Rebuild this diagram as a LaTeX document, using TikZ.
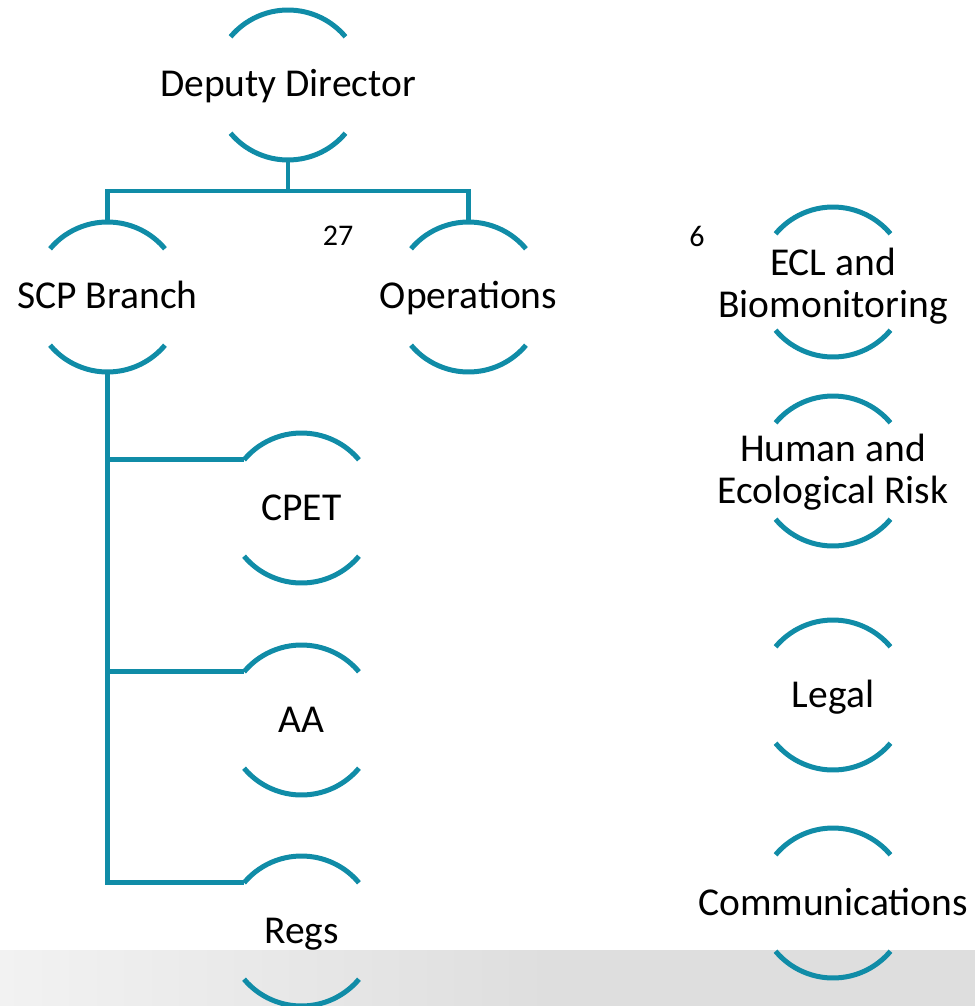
\documentclass[tikz,border=0pt]{standalone}
\usepackage{fontspec}
\setmainfont{Carlito}
\usetikzlibrary{calc}
\definecolor{teal1}{RGB}{16,140,167}
\definecolor{bandL}{RGB}{242,242,242}
\definecolor{bandR}{RGB}{222,222,222}
\tikzset{
  unit/.style={circle,minimum size=150pt,inner sep=0pt,draw=none,
    font=\fontsize{39.5}{42}\selectfont,text=black},
  num/.style={inner sep=0pt,font=\fontsize{30}{34}\selectfont,text=black},
  ringline/.style={draw=teal1,line width=5pt},
  conn/.style={draw=teal1,line width=4.5pt},
}
\newcommand\ringarcs[1]{%
  \draw[ringline] ([shift={(140:75pt)}]#1.center) arc[start angle=140,end angle=40,radius=75pt];
  \draw[ringline] ([shift={(-140:75pt)}]#1.center) arc[start angle=-140,end angle=-40,radius=75pt];}
% baseline of first line placed #1 above the ring centre
\newcommand\lbl[2][-12pt]{\makebox[0pt]{\raisebox{#1}[0pt][0pt]{\begin{tabular}[t]{@{}c@{}}#2\end{tabular}}}}
\begin{document}
\begin{tikzpicture}[x=1pt,y=1pt]
\useasboundingbox (0,0) rectangle (975,-1006);
% background band
\shade[left color=bandL,right color=bandR] (0,-950) rectangle (550,-1006);
\fill[bandR] (549.5,-950) rectangle (975,-1006);
% nodes
\node[unit] (dd) at (288,-85) {\lbl{Deputy Director}};
\node[unit] (scp) at (107.5,-297) {\lbl[-11.5pt]{SCP Branch}};
\node[unit] (ops) at (468.5,-297) {\lbl[-11.5pt]{Operations}};
\node[unit] (cpet) at (301.5,-508) {\lbl{CPET}};
\node[unit] (aa) at (301.5,-720) {\lbl{AA}};
\node[unit] (regs) at (301.5,-931) {\lbl{Regs}};
\node[unit] (ecl) at (833,-282) {\lbl[7pt]{ECL and\\Biomonitoring}};
\node[unit] (her) at (833,-471) {\lbl[10pt]{Human and\\Ecological Risk}};
\node[unit] (legal) at (833,-695) {\lbl{Legal}};
\node[unit] (comm) at (833,-903) {\lbl{Communications}};
\node[num] (n27) at (338,-236) {27};
\node[num] (n6) at (697,-236) {6};
% rings
\foreach \n in {dd,scp,ops,cpet,aa,regs,ecl,her,legal,comm}{\ringarcs{\n}}
% connectors
\coordinate (bus) at (288,-191);
\draw[conn] (dd.south) -- (bus);
\draw[conn] (scp.north) |- (bus) -| (ops.north);
\draw[conn] (scp.south) |- (cpet.140);
\draw[conn] (scp.south) |- (aa.140);
\draw[conn] (scp.south) |- (regs.140);
\end{tikzpicture}
\end{document}
